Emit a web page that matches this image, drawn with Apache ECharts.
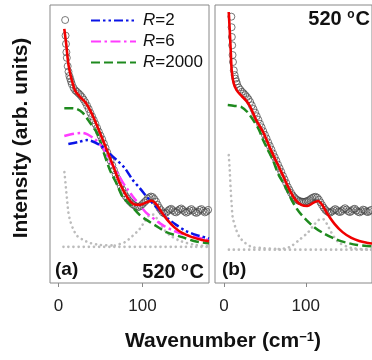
<!DOCTYPE html>
<html>
<head>
<meta charset="utf-8">
<script src="https://cdn.jsdelivr.net/npm/echarts@6/dist/echarts.min.js"></script>
<style>html,body{margin:0;padding:0;background:#fff;}#c{width:372px;height:360px;}</style>
</head>
<body>
<div id="c"></div>
<script>
// ---------- Panel (a) ----------
var aDataX = [8,8.5,9,9.5,10,11,12,13,14,15,16,18,20,22,24,26,28,30,32,34,36,38,40,42,44,46,48,50,52,54,56,58,60,62,64,66,68,70,72,74,76,78,80,82,84,86,88,90,92,94,96,98,100,102,104,106,108,110,112,114,116,118,120,122,124,126,128,130,132,134,136,138,140,142,144,146,148,150,152,154,156,158,160,162,164,166,168,170,172,174,176,178];
var aDataY = [94.6,89,86,83,81,78,76,74.5,73.5,72.5,71.5,70.2,69.3,68.8,68.2,67.6,66.9,66,65,63.8,62.6,61.2,59.9,58.6,57.2,55.8,54.4,53,51.7,50.2,48.6,47,45.5,44,42.3,40.6,39.1,37.6,36.3,35,33.6,32.3,31.2,30.4,29.6,29,28.4,28,27.6,27.3,27.4,27.8,28.4,29,29.6,30.3,30.8,31.1,30.9,30.2,29.3,28.1,27,26.2,25.4,25,25.3,25.9,26.4,26.7,26.2,25.6,25.4,25.9,26.5,26.8,26.3,25.7,25.3,25.6,26.2,26.6,26.1,25.5,25.2,25.6,26.3,26.6,26,25.4,25.7,26.3];
var aRedX = [7,9.4,11.8,14.1,16.5,20,25.9,31.8,37.6,43.5,49.4,57.6,64.7,72.9,82.4,89.4,96.5,104.7,110.6,116.5,122.4,129.4,137.6,147.1,158.8,170.6,179];
var aRedY = [91.4,85.6,78.8,75.2,72.3,69.1,66.9,65.1,62.2,58.3,54.0,47.8,42.4,36.0,30.6,28.4,28.1,29.0,29.6,28.3,25.5,22.7,20.1,18.0,16.5,15.5,15.0];
var aR2X = [11.8,23.5,34.1,49.4,58.8,69.4,78.8,88.2,96.5,108.2,117.6,128.2,140,151.8,163.5,179];
var aR2Y = [50.0,50.7,51.4,49.6,47.1,44.2,41.4,37.1,34.2,29.9,27.0,23.7,20.9,18.7,17.3,16.0];
var aR6X = [7,16.5,28.2,41.2,52.9,61.2,69.4,76.5,82.4,88.2,100,104.7,123.5,137.6,151.8,179];
var aR6Y = [52.9,53.6,54.0,52.2,48.6,44,40,36.2,33.6,31.2,26.8,25.2,20.9,18.7,17.3,15.4];
var aR2000X = [7,14,22,29,37.6,45.9,52.9,61.2,69.4,76.5,84.7,96.5,104.7,120,128.2,147.1,161.2,179];
var aR2000Y = [62.9,62.9,62.6,61.2,57.6,54.0,47.8,40.6,35.6,30.9,28.4,24.5,22.7,19.8,18.3,16.5,15.1,14.3];
var aComp1X = [7.1,8.3,9.4,10.6,11.8,14.1,17.6,22.4,29.4,37.6,49.4,67];
var aComp1Y = [39.9,36.3,32.7,29.1,25.5,22.3,19.4,16.9,15.5,14.4,13.7,13.5];
var aComp2X = [67,79,88,96.5,102,108,113,118,124,132,145,163,179];
var aComp2Y = [13.5,14.7,16.9,19.4,21.9,24.3,24.6,22.7,19.8,17.3,15.1,13.7,13.2];
var aBaseX = [6,179];
var aBaseY = [13,13];

// ---------- Panel (b) ----------
var bDataX = [9,9.3,9.6,10,10.5,11,12,13,14,15,16,18,20,22,24,26,28,30,32,34,36,38,40,42,44,46,48,50,52,54,56,58,60,62,64,66,68,70,72,74,76,78,80,82,84,86,88,90,92,94,96,98,100,102,104,106,108,110,112,114,116,118,120,122,124,126,128,130,132,134,136,138,140,142,144,146,148,150,152,154,156,158,160,162,164,166,168,170,172,174,176,178,180];
var bDataY = [95.8,92,88.5,85.5,82,79.5,76.5,74.8,73.5,72.5,71.6,70.3,69.5,68.8,68.2,67.6,66.9,66.1,65.1,63.9,62.6,61.3,60,58.7,57.3,56,54.6,53.3,52,50.6,49.3,48,46.6,45.3,44,42.6,41.3,40,38.6,37.3,36,34.6,33.5,32.4,31.5,30.8,30.2,29.8,29.5,29.3,29.2,29.2,29.3,29.5,29.8,30.2,30.6,30.9,31,30.7,30,29,28,27.1,26.3,25.8,25.4,25.3,25.7,26.2,26.6,26.2,25.7,25.5,25.9,26.5,26.9,26.4,25.8,25.5,25.9,26.5,26.7,26.1,25.6,25.4,25.8,26.4,26.2,25.7,25.5,25.9,26.3];
var bRedX = [5.8,7,8.2,9.4,11.8,15.4,21.4,27.4,32.2,39.4,47.8,57.4,70.6,80.2,87.4,94.6,101.8,109,115,121,125.8,135.4,145,155.8,165.4,176.2,181];
var bRedY = [97.5,91,83.8,76.6,71.9,69.4,67.3,65.5,63.3,58.6,54.3,47.8,39.6,33.5,29.9,28.1,27.7,28.8,29.5,27.7,25.2,21.2,18.3,16.2,15.1,14.4,14.2];
var bR2000X = [4.6,13,21.4,28.6,35.8,43,47.8,53.8,59.8,67,75.4,82.6,91,100.6,110.2,121,133,147.4,163,181];
var bR2000Y = [64,63.7,63.3,61.5,58.6,55,51.4,47.8,44.2,38.8,34.5,29.9,25.9,22.7,20.1,18,16.2,14.7,13.7,13.2];
var bComp1X = [5.8,7,8.2,9.4,10.6,14.2,19,26,34.6,45,67];
var bComp1Y = [46,40.6,33.5,28.1,23.7,19.8,16.5,14.4,12.9,12.6,12.2];
var bComp2X = [67,80,92,103,110,116,121,126,131,140,156,181];
var bComp2Y = [12.2,12.9,15.5,18.3,20.9,22.7,23,21.2,18.3,14.7,12.6,12];
var bBaseX = [6,181];
var bBaseY = [12,12];

var tickValues = [0, 100];
var legendNames = ['R=2', 'R=6', 'R=2000'];

function zip(xs, ys) { return xs.map(function (x, i) { return [x, ys[i]]; }); }

var FONT = 'Liberation Sans, Arial, sans-serif';
var C_RED = '#f00000', C_BLUE = '#0a14e6', C_MAG = '#ff3cff', C_GREEN = '#1e8a1e', C_DOT = '#bcbcbc', C_CIRC = '#444';

function dotted(xi, xs, ys) {
  return { type: 'line', xAxisIndex: xi, yAxisIndex: xi, data: zip(xs, ys), symbol: 'none', smooth: 0.3, silent: true,
    lineStyle: { color: C_DOT, width: 2.6, type: [0.1, 5], cap: 'round' }, z: 1 };
}
function circles(xi, xs, ys) {
  return { type: 'scatter', xAxisIndex: xi, yAxisIndex: xi, data: zip(xs, ys), symbol: 'circle', symbolSize: 7, silent: true,
    itemStyle: { color: 'rgba(0,0,0,0)', borderColor: C_CIRC, borderWidth: 0.9 }, z: 2 };
}
function curve(name, xi, xs, ys, color, type, w, z) {
  return { name: name, type: 'line', xAxisIndex: xi, yAxisIndex: xi, data: zip(xs, ys), symbol: 'none', showSymbol: false,
    smooth: 0.3, silent: true, lineStyle: { color: color, width: w, type: type }, itemStyle: { color: color }, z: z };
}

function xAxis(gi, mn, mx) {
  return { gridIndex: gi, type: 'value', min: mn, max: mx,
    axisLine: { show: false },
    axisTick: { show: true, inside: false, length: 4, customValues: tickValues, lineStyle: { color: '#888' } },
    axisLabel: { show: true, customValues: tickValues, fontSize: 17, color: '#222', fontFamily: FONT, margin: 15 },
    splitLine: { show: false } };
}
function yAxis(gi) {
  return { gridIndex: gi, type: 'value', min: 0, max: 100, show: false, splitLine: { show: false } };
}

var chart = echarts.init(document.getElementById('c'), null, { renderer: 'canvas' });
chart.setOption({
  animation: false,
  backgroundColor: '#fff',
  grid: [
    { left: 50, top: 5, width: 159, height: 278, show: true, borderColor: '#888', borderWidth: 1, backgroundColor: 'transparent' },
    { left: 215, top: 5, width: 160, height: 278, show: true, borderColor: '#888', borderWidth: 1, backgroundColor: 'transparent' }
  ],
  xAxis: [xAxis(0, -10, 179), xAxis(1, -11, 181)],
  yAxis: [yAxis(0), yAxis(1)],
  legend: {
    data: legendNames, orient: 'vertical', left: 85, top: 7, itemWidth: 45, itemHeight: 14, itemGap: 4,
    selectedMode: false,
    itemStyle: { opacity: 0 },
    formatter: function (n) { return '{i|R}' + n.slice(1); },
    textStyle: { fontSize: 17, color: '#111', fontFamily: FONT, lineHeight: 16, padding: [0, 0, 0, 2],
      rich: { i: { fontStyle: 'italic', fontSize: 17, fontFamily: FONT, color: '#111' } } }
  },
  series: [
    dotted(0, aBaseX, aBaseY), dotted(0, aComp1X, aComp1Y), dotted(0, aComp2X, aComp2Y),
    circles(0, aDataX, aDataY),
    curve('R=2000', 0, aR2000X, aR2000Y, C_GREEN, [9, 4], 2.5, 3),
    curve('R=6', 0, aR6X, aR6Y, C_MAG, [10, 3.5, 2.5, 3.5], 2.5, 4),
    curve('R=2', 0, aR2X, aR2Y, C_BLUE, [9, 3, 2.5, 3, 2.5, 3], 2.5, 5),
    curve('fit', 0, aRedX, aRedY, C_RED, 'solid', 2.6, 6),

    dotted(1, bBaseX, bBaseY), dotted(1, bComp1X, bComp1Y), dotted(1, bComp2X, bComp2Y),
    circles(1, bDataX, bDataY),
    curve('R=2000', 1, bR2000X, bR2000Y, C_GREEN, [9, 4], 2.5, 3),
    curve('fitb', 1, bRedX, bRedY, C_RED, 'solid', 2.6, 6)
  ],
  graphic: [
    { type: 'text', x: 21, y: 138, rotation: Math.PI / 2, silent: true,
      style: { text: 'Intensity (arb. units)', fill: '#111', font: 'bold 21px ' + FONT, align: 'center', verticalAlign: 'middle' } },
    { type: 'text', x: 223, y: 341, silent: true,
      style: { text: 'Wavenumber (cm{s|\u22121})', fill: '#111', font: 'bold 21px ' + FONT, align: 'center', verticalAlign: 'middle',
        rich: { s: { fontSize: 13, fontWeight: 'bold', fontFamily: FONT, fill: '#111', verticalAlign: 'top', padding: [0, 0, 6, 0] } } } },
    { type: 'text', x: 55, y: 270, silent: true,
      style: { text: '(a)', fill: '#111', font: 'bold 19px ' + FONT, align: 'left', verticalAlign: 'middle' } },
    { type: 'text', x: 222, y: 270, silent: true,
      style: { text: '(b)', fill: '#111', font: 'bold 19px ' + FONT, align: 'left', verticalAlign: 'middle' } },
    { type: 'text', x: 204, y: 272, silent: true,
      style: { text: '520 {s|o}C', fill: '#111', font: 'bold 20px ' + FONT, align: 'right', verticalAlign: 'middle',
        rich: { s: { fontSize: 12, fontWeight: 'bold', fontFamily: FONT, fill: '#111', verticalAlign: 'top', padding: [0, 1, 6, 0] } } } },
    { type: 'text', x: 370, y: 19, silent: true,
      style: { text: '520 {s|o}C', fill: '#111', font: 'bold 20px ' + FONT, align: 'right', verticalAlign: 'middle',
        rich: { s: { fontSize: 12, fontWeight: 'bold', fontFamily: FONT, fill: '#111', verticalAlign: 'top', padding: [0, 1, 6, 0] } } } }
  ]
});
</script>
</body>
</html>
